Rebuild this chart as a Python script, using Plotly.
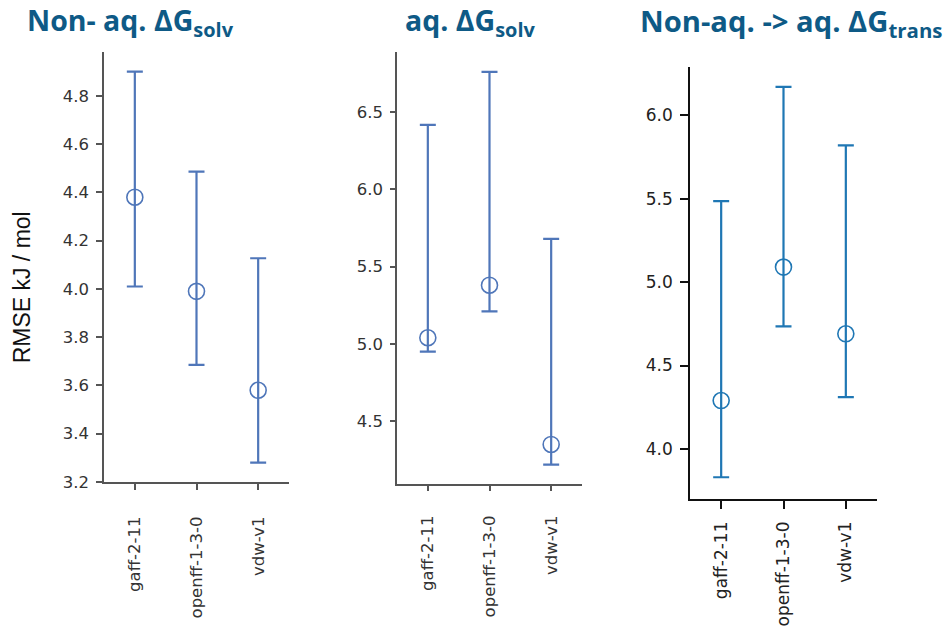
import plotly.graph_objects as go

W, H = 946, 630

categories = ["gaff-2-11", "openff-1-3-0", "vdw-v1"]

# Panel 1: Non-aq. dG_solv
p1_center = [4.38, 3.99, 3.58]
p1_upper = [4.90, 4.486, 4.127]
p1_lower = [4.01, 3.685, 3.28]

# Panel 2: aq. dG_solv
p2_center = [5.04, 5.38, 4.35]
p2_upper = [6.417, 6.76, 5.68]
p2_lower = [4.95, 5.21, 4.22]

# Panel 3: Non-aq -> aq dG_trans
p3_center = [4.29, 5.09, 4.69]
p3_upper = [5.485, 6.17, 5.82]
p3_lower = [3.83, 4.735, 4.31]

titles = ["<b>Non- aq. ΔG<sub>solv</sub></b>",
          "<b>aq. ΔG<sub>solv</sub></b>",
          "<b>Non-aq. -> aq. ΔG<sub>trans</sub></b>"]

fig = go.Figure()

# pixel geometry: (x_left, x_right, y_top, y_bottom)
panels = [
    dict(c=p1_center, u=p1_upper, l=p1_lower, box=(104, 289, 53, 490), rng=[3.199, 4.981],
         dtick=0.2, col="#4f76b9", axcol="#555555", tfs=16.5, tcol="#333333",
         tl=6, xso=20),
    dict(c=p2_center, u=p2_upper, l=p2_lower, box=(397, 582, 53, 492), rng=[4.093, 6.887],
         dtick=0.5, col="#4f76b9", axcol="#555555", tfs=16.5, tcol="#333333",
         tl=5, xso=18),
    dict(c=p3_center, u=p3_upper, l=p3_lower, box=(690, 877, 68, 507), rng=[3.70, 6.29],
         dtick=0.5, col="#1f77b4", axcol="#111111", tfs=17, tcol="#222222",
         tl=8, xso=6),
]

xs = list(range(len(categories)))
for i, p in enumerate(panels):
    n = "" if i == 0 else str(i + 1)
    x0, x1, yt, yb = p["box"]
    fig.add_trace(go.Scatter(
        x=xs, y=p["c"], mode="markers",
        xaxis="x" + n, yaxis="y" + n,
        marker=dict(symbol="circle-open", size=16, color=p["col"], line=dict(width=1.6, color=p["col"])),
        error_y=dict(type="data", symmetric=False,
                     array=[u - c for u, c in zip(p["u"], p["c"])],
                     arrayminus=[c - l for c, l in zip(p["c"], p["l"])],
                     color=p["col"], thickness=2.2, width=8),
        showlegend=False, hoverinfo="skip",
    ))
    fig.layout["xaxis" + n] = dict(
        domain=[x0 / W, x1 / W], anchor="y" + n, range=[-0.5, 2.5],
        tickmode="array", tickvals=xs, ticktext=categories, tickangle=-90,
        showline=True, linecolor=p["axcol"], linewidth=1.5, mirror=False,
        ticks="outside", ticklen=p["tl"], tickwidth=1.5, tickcolor=p["axcol"],
        ticklabelstandoff=p["xso"],
        showgrid=False, zeroline=False,
        tickfont=dict(family="DejaVu Sans", size=p["tfs"], color=p["tcol"]),
        fixedrange=True,
    )
    fig.layout["yaxis" + n] = dict(
        domain=[(H - yb) / H, (H - yt) / H], anchor="x" + n, range=p["rng"],
        dtick=p["dtick"], tickformat=".1f",
        showline=True, linecolor=p["axcol"], linewidth=1.5, mirror=False,
        ticks="outside", ticklen=p["tl"], tickwidth=1.5, tickcolor=p["axcol"],
        ticklabelstandoff=4,
        showgrid=False, zeroline=False,
        tickfont=dict(family="DejaVu Sans", size=p["tfs"], color=p["tcol"]),
        fixedrange=True,
    )

title_pos = [(25, -1, 28.5), (403, -1, 28.5), (638, -1, 29.2)]
for t, (tx, ty, fs) in zip(titles, title_pos):
    fig.add_annotation(text=t, x=tx / W, y=1 - ty / H, xref="paper", yref="paper",
                       xanchor="left", yanchor="top", showarrow=False,
                       font=dict(family="Open Sans", size=fs, color="#0e5a86"))

fig.add_annotation(text="RMSE kJ / mol", x=22 / W, y=1 - 292 / H, xref="paper", yref="paper",
                   xanchor="center", yanchor="middle", textangle=-90, showarrow=False,
                   font=dict(family="Liberation Sans", size=23, color="#111111"))

fig.update_layout(width=W, height=H, margin=dict(l=0, r=0, t=0, b=0),
                  paper_bgcolor="white", plot_bgcolor="white")

fig.write_html("out.html")
